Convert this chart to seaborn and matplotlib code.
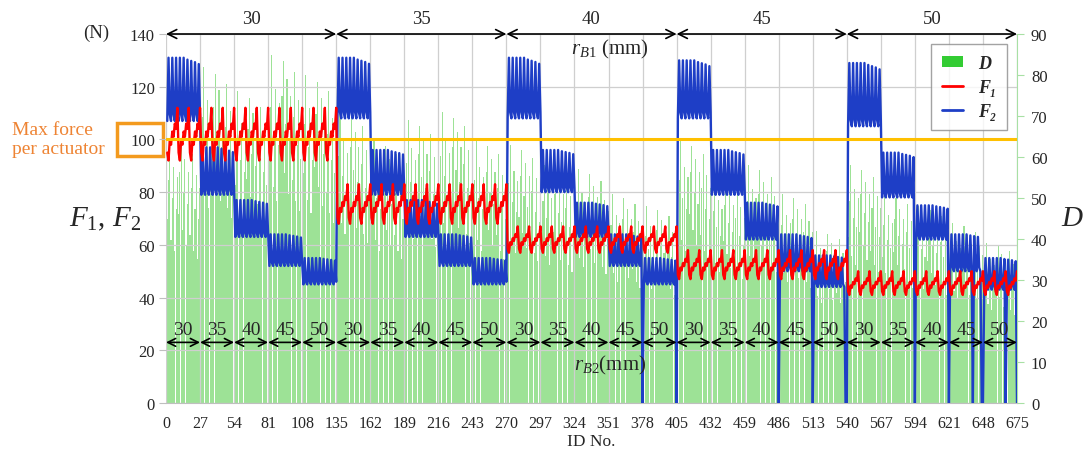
import numpy as np
import pandas as pd
import matplotlib
matplotlib.use("Agg")
import matplotlib.pyplot as plt
import seaborn as sns
from matplotlib.patches import Rectangle, Patch
from matplotlib.lines import Line2D

# ---------------- data ----------------
rB1_labels = [30, 35, 40, 45, 50]
rB2_labels = [30, 35, 40, 45, 50]
block_len = 27

# F2 range per block of 27 IDs (N)
F2_hi = [131, 97, 77, 64, 55,
         131, 96, 77, 64, 55,
         131, 96, 76, 64, 55,
         130, 96, 76, 64, 56,
         129, 95, 75, 64, 55]
F2_lo = [107, 79, 63, 52, 45,
         108, 79, 63, 52, 45,
         108, 80, 63, 52, 45,
         108, 79, 62, 50, 44,
         105, 78, 62, 50, 43]
# within-block F2 shape (fraction of range)
F2_shape27 = [0.0, 1.0, 0.1, 0.0, 1.0, 0.1, 0.0, 1.0, 0.1,
              0.0, 1.0, 0.1, 0.0, 1.0, 0.1, 0.0, 0.97, 0.1,
              0.0, 0.95, 0.1, 0.0, 0.93, 0.1, 0.0, 0.9, 0.1]

# F1 range per r_B1 group (N) and 9-ID tooth shape
F1_lo = [92, 68, 57, 47, 41]
F1_hi = [112, 83, 67, 58, 50]
F1_shape9 = [0.15, 0.0, 0.4, 0.3, 0.55, 0.45, 0.7, 0.6, 1.0]

# D: top (spike) level per block and within-block shape
D_top = [64, 82, 76, 85, 80,
         71, 64, 69, 71, 64,
         63, 58, 57, 51, 48,
         64, 55, 58, 51, 42,
         58, 51, 48, 44, 39]
D_shape27 = [0.70, 0.85, 1.00, 0.62, 0.78, 0.90, 0.58, 0.74, 0.86,
             0.72, 0.88, 0.98, 0.66, 0.80, 0.93, 0.60, 0.76, 0.88,
             0.64, 0.82, 0.95, 0.58, 0.74, 0.87, 0.55, 0.70, 0.82]

# IDs where F2 drops to zero
zero_ids = [378, 405, 486, 513, 539, 540, 594, 621, 640, 647, 648, 666, 675]

x_ticks = list(range(0, 676, 27))

# ---------------- build series ----------------
ids, F1, F2, D = [], [], [], []
for b in range(25):
    g = b // 5
    for i in range(block_len):
        ids.append(b * block_len + i + 1)
        F2.append(F2_lo[b] + F2_shape27[i] * (F2_hi[b] - F2_lo[b]))
        F1.append(F1_lo[g] + F1_shape9[i % 9] * (F1_hi[g] - F1_lo[g]))
        D.append(D_top[b] * D_shape27[i])
df = pd.DataFrame({"ID": ids, "F1": F1, "F2": F2, "D": D})
df.loc[df["ID"].isin(zero_ids), "F2"] = 0.0

# ---------------- style ----------------
sns.set_style("white")
plt.rcParams["font.family"] = ["Liberation Serif", "DejaVu Serif"]
plt.rcParams["mathtext.fontset"] = "custom"
plt.rcParams["mathtext.rm"] = "Liberation Serif"
plt.rcParams["mathtext.it"] = "Liberation Serif:italic"
plt.rcParams["mathtext.bf"] = "Liberation Serif:bold"

W, H = 1087, 452
fig = plt.figure(figsize=(W / 100, H / 100), dpi=100)
L, R, T, B = 166, 1017, 35, 404
ax = fig.add_axes([L / W, 1 - B / H, (R - L) / W, (B - T) / H])
ax2 = ax.twinx()
ax.set_zorder(ax2.get_zorder() + 1)
ax.patch.set_visible(False)

bar_green = "#9de296"
sns.barplot(data=df, x="ID", y="D", native_scale=True, color=bar_green,
            width=0.88, errorbar=None, saturation=1, linewidth=0, ax=ax2)

blue = "#1e3ec6"
sns.lineplot(data=df, x="ID", y="F2", color=blue, lw=1.7, ax=ax,
             estimator=None, sort=False, zorder=3)
sns.lineplot(data=df, x="ID", y="F1", color="#ff0000", lw=1.7, ax=ax,
             estimator=None, sort=False, zorder=4)
ax.axhline(100, color="#FFC000", lw=2.2, zorder=6)

# axes setup
ax.set_xlim(0, 675)
ax.set_ylim(0, 140)
ax2.set_ylim(0, 90)
ax2.set_xlim(0, 675)
ax.set_xticks(x_ticks)
ax.set_yticks(range(0, 141, 20))
ax2.set_yticks(range(0, 91, 10))
ax.grid(True, color="#cfcfcf", lw=0.9)
ax2.grid(False)
ax.set_ylabel("")
ax2.set_ylabel("")
ax2.set_xlabel("")
ax.set_xlabel("ID No.", fontsize=12.5, labelpad=1)
for s in ["left", "top", "right"]:
    ax.spines[s].set_visible(False)
for s in ["left", "top", "bottom"]:
    ax2.spines[s].set_visible(False)
ax.spines["bottom"].set_color("#bfbfbf")
ax2.spines["right"].set_color("#a8e0a4")
ax.tick_params(axis="y", length=5, color="#bfbfbf", labelsize=12, pad=3)
ax.tick_params(axis="x", length=5, color="#bfbfbf", labelsize=11.5, pad=4)
ax2.tick_params(axis="y", length=5, color="#a8e0a4", labelsize=12, pad=5)

# top arrows (r_B1)
for i, lab in enumerate(rB1_labels):
    x0, x1 = i * 135, (i + 1) * 135
    ax.annotate("", xy=(x0, 140), xytext=(x1, 140),
                arrowprops=dict(arrowstyle="<->", color="black", lw=1.2,
                                shrinkA=0, shrinkB=0, mutation_scale=16),
                annotation_clip=False, zorder=7)
    ax.text((x0 + x1) / 2, 142.5, str(lab), ha="center", va="bottom",
            fontsize=13.5, clip_on=False)
ax.text(352, 134.5, r"$r_{B1}$ (mm)", ha="center", va="center", fontsize=15)

# bottom arrows (r_B2)
for j in range(25):
    x0, x1 = j * 27, (j + 1) * 27
    ax.annotate("", xy=(x0, 23), xytext=(x1, 23),
                arrowprops=dict(arrowstyle="<->", color="black", lw=1.2,
                                shrinkA=0, shrinkB=0, mutation_scale=14),
                zorder=7)
    ax.text((x0 + x1) / 2, 24.5, str(rB2_labels[j % 5]), ha="center",
            va="bottom", fontsize=14, zorder=7)
ax.text(352, 14.5, r"$r_{B2}$(mm)", ha="center", va="center", fontsize=15)

# legend
handles = [Patch(facecolor="#33cc33", edgecolor="none"),
           Line2D([], [], color="#ff0000", lw=2),
           Line2D([], [], color=blue, lw=2)]
leg = ax.legend(handles, ["D", "F\u2081", "F\u2082"], loc="upper right",
                bbox_to_anchor=(1007 / W, 1 - 45 / H), bbox_transform=fig.transFigure,
                borderaxespad=0, frameon=True, fancybox=False, edgecolor="#8c8c8c",
                handlelength=1.2, handleheight=0.6, labelspacing=0.38,
                borderpad=0.6, handletextpad=0.8,
                prop=dict(family=["Liberation Serif", "DejaVu Serif"],
                          weight="bold", style="italic", size=13))
leg.get_frame().set_linewidth(1.0)
leg.set_zorder(10)

# figure-level texts
fig.text(96 / W, 1 - 33 / H, "(N)", ha="center", va="center", fontsize=13.5)
fig.text(105 / W, 1 - 219 / H, r"$F_1$, $F_2$", ha="center", va="center", fontsize=21)
fig.text(1072 / W, 1 - 219 / H, r"$D$", ha="center", va="center", fontsize=21)
fig.text(12 / W, 1 - 140 / H, "Max force\nper actuator", ha="left", va="center",
         fontsize=14, color="#EE8434", linespacing=1.1)
fig.add_artist(Rectangle((117 / W, 1 - 157 / H), 46 / W, 33 / H,
                         transform=fig.transFigure, fill=False,
                         edgecolor="#F39A1E", lw=2.5))

fig.savefig("out.png", dpi=100)
